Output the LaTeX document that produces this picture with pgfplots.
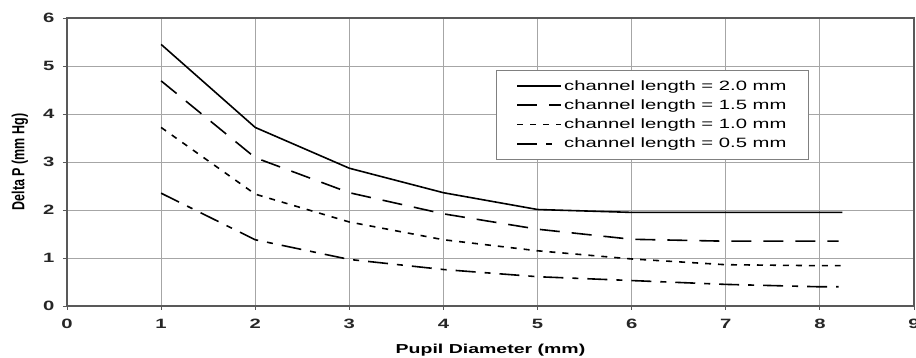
\documentclass[border=0pt]{standalone}
\usepackage{fontspec}
\setmainfont{Liberation Sans}[FakeStretch=1.5]
\newfontfamily\plainsans{Liberation Sans}
\usepackage{graphicx}
\usepackage{pgfplots}
\pgfplotsset{compat=1.18}
\begin{document}
\begin{tikzpicture}[x=1pt,y=1pt]
\begin{axis}[name=ax, at={(0,0)}, anchor=south west,
  scale only axis, width=847pt, height=288pt,
  xmin=0, xmax=9, ymin=0, ymax=6,
  xtick={0,...,9}, ytick={0,...,6},
  tick pos=left, tick align=outside, major tick length=4pt,
  grid=major, grid style={gray!70, line width=0.8pt},
  axis line style={black!65, line width=1.1pt},
  tick style={black!65, line width=0.8pt},
  /pgf/number format/assume math mode=true,
  ticklabel style={font=\bfseries\fontsize{13.5}{15}\selectfont, text=black!85},
  xticklabel style={yshift=-6pt},
  yticklabel style={xshift=-5pt},
  every axis x label/.style={at={(axis description cs:0.5,0)}, yshift=-44pt, anchor=center},
  every axis y label/.style={at={(axis description cs:0,0.5)}, xshift=-47pt, anchor=center, rotate=90},
  xlabel={\bfseries\fontsize{13}{15}\selectfont Pupil Diameter (mm)},
  ylabel={\scalebox{1}[1.4]{\plainsans\bfseries\fontsize{12.5}{14}\selectfont Delta P (mm Hg)}},
  legend image code/.code={\draw[#1] (0pt,0pt) -- (44pt,0pt);},
  legend style={at={(axis cs:4.56,4.92)}, anchor=north west, draw=black!50, line width=0.8pt,
    fill=white, inner xsep=20pt, inner ysep=8pt, row sep=4pt,
    font=\fontsize{13.5}{16}\selectfont, cells={anchor=west},
    /tikz/every even column/.append style={column sep=0pt}},
]
\addplot[black, no marks, line width=1.6pt] coordinates {(1,5.45) (2,3.72) (3,2.87) (4,2.36) (5,2.01) (6,1.95) (7,1.95) (8,1.95) (8.24,1.95)};
\addlegendentry{channel length = 2.0 mm}
\addplot[black, no marks, line width=1.6pt, dash pattern=on 20pt off 12pt] coordinates {(1,4.69) (2,3.09) (3,2.36) (4,1.92) (5,1.60) (6,1.39) (7,1.35) (8,1.35) (8.2,1.35)};
\addlegendentry{channel length = 1.5 mm}
\addplot[black, no marks, line width=1.6pt, dash pattern=on 6pt off 7pt] coordinates {(1,3.72) (2,2.33) (3,1.75) (4,1.38) (5,1.15) (6,0.98) (7,0.86) (8,0.84) (8.22,0.84)};
\addlegendentry{channel length = 1.0 mm}
\addplot[black, no marks, line width=1.6pt, dash pattern=on 20pt off 9pt on 6pt off 9pt] coordinates {(1,2.35) (2,1.38) (3,0.97) (4,0.76) (5,0.61) (6,0.53) (7,0.45) (8,0.40) (8.2,0.40)};
\addlegendentry{channel length = 0.5 mm}
\end{axis}
\pgfresetboundingbox
\path (-67,-52) rectangle (849,306);
\end{tikzpicture}
\end{document}
